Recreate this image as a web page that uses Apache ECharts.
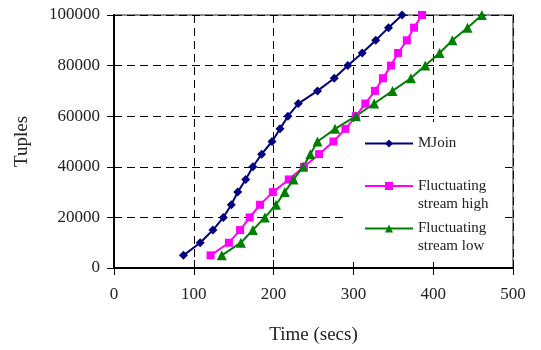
<!DOCTYPE html>
<html>
<head>
<meta charset="utf-8">
<script src="https://cdn.jsdelivr.net/npm/echarts@6/dist/echarts.min.js"></script>
<style>
  html, body { margin: 0; padding: 0; background: #fff; }
  #chart { width: 541px; height: 350px; }
</style>
</head>
<body>
<div id="chart"></div>
<script>
// tuples processed (y) and time in secs (x) for each series
const tuples = [5000, 10000, 15000, 20000, 25000, 30000, 35000, 40000, 45000, 50000,
  55000, 60000, 65000, 70000, 75000, 80000, 85000, 90000, 95000, 100000];
const mjoinTimes = [87, 108, 124, 137, 147, 155, 165, 174, 185, 198,
  208, 218, 231, 255, 276, 293, 311, 328, 344, 361];
const highTimes = [121, 144, 158, 170, 183, 199, 219, 238, 257, 275,
  290, 303, 315, 327, 337, 347, 356, 367, 376, 386];
const lowTimes = [135, 159, 174, 189, 203, 214, 225, 237, 246, 255,
  277, 303, 326, 349, 372, 390, 408, 424, 443, 461];

const seriesNames = ['MJoin', 'Fluctuating stream high', 'Fluctuating stream low'];
const legendLines = {
  'MJoin': ['MJoin'],
  'Fluctuating stream high': ['Fluctuating', 'stream high'],
  'Fluctuating stream low': ['Fluctuating', 'stream low'],
};

const font = "'Liberation Serif', 'Times New Roman', serif";

const pairs = (times) => times.map((t, i) => [t, tuples[i]]);

const chart = echarts.init(document.getElementById('chart'));

const makeSeries = (name, times, color, symbol, size) => ({
  name: name,
  type: 'line',
  data: pairs(times),
  symbol: symbol,
  symbolSize: size,
  lineStyle: { color: color, width: 2 },
  itemStyle: { color: color },
});

const option = {
  animation: false,
  grid: {
    left: 114, right: 28, top: 15, bottom: 82,
    show: true,
    borderColor: '#8c8c8c',
    borderWidth: 2,
  },
  graphic: {
    elements: [{
      type: 'rect',
      z: 1,
      silent: true,
      shape: { x: 347, y: 122, width: 158, height: 140 },
      style: { fill: '#fff' },
    }],
  },
  legend: {
    orient: 'vertical',
    left: 364,
    top: 118,
    padding: 0,
    itemGap: -8.5,
    itemWidth: 48,
    itemHeight: 10,
    selectedMode: false,
    data: seriesNames,
    formatter: (name) => {
      const lines = legendLines[name];
      const second = lines[1] ? '{t|' + lines[1] + '}' : '{b| }';
      return '{b| }\n{t|' + lines[0] + '}\n' + second;
    },
    textStyle: {
      rich: {
        t: { fontFamily: font, fontSize: 15, lineHeight: 18, color: '#222' },
        b: { fontFamily: font, fontSize: 15, lineHeight: 18 },
      },
    },
  },
  xAxis: [{
    type: 'value',
    min: 0, max: 500, interval: 100,
    name: 'Time (secs)',
    nameLocation: 'middle',
    nameGap: 58,
    nameTextStyle: { fontFamily: font, fontSize: 19, color: '#222' },
    axisLine: { show: true, lineStyle: { color: '#000', width: 2 } },
    axisTick: { show: true, length: 7, lineStyle: { color: '#000' } },
    axisLabel: { fontFamily: font, fontSize: 17, color: '#222', margin: 18 },
    splitLine: { show: true, lineStyle: { color: '#000', type: [8, 5], width: 1 } },
  }, {
    type: 'value',
    position: 'bottom',
    min: 0, max: 500, interval: 100,
    axisLine: { show: false },
    axisTick: { show: true, inside: true, length: 8, lineStyle: { color: '#000' } },
    axisLabel: { show: false },
    splitLine: { show: false },
  }],
  yAxis: [{
    type: 'value',
    min: 0, max: 100000, interval: 20000,
    name: 'Tuples',
    nameLocation: 'middle',
    nameGap: 82,
    nameTextStyle: { fontFamily: font, fontSize: 19, color: '#222' },
    axisLine: { show: true, lineStyle: { color: '#000', width: 2 } },
    axisTick: { show: true, length: 7, lineStyle: { color: '#000' } },
    axisLabel: {
      fontFamily: font, fontSize: 17, color: '#222', margin: 14,
      formatter: (v) => String(v),
    },
    splitLine: { show: true, lineStyle: { color: '#000', type: [8, 5], width: 1 } },
  }, {
    type: 'value',
    position: 'left',
    min: 0, max: 100000, interval: 20000,
    axisLine: { show: false },
    axisTick: { show: true, inside: true, length: 4, lineStyle: { color: '#000' } },
    axisLabel: { show: false },
    splitLine: { show: false },
  }],
  series: [
    makeSeries(seriesNames[0], mjoinTimes, '#000080', 'diamond', 9),
    makeSeries(seriesNames[1], highTimes, '#ff00ff', 'rect', 8),
    makeSeries(seriesNames[2], lowTimes, '#008000', 'triangle', 10),
  ],
};

chart.setOption(option);
</script>
</body>
</html>
